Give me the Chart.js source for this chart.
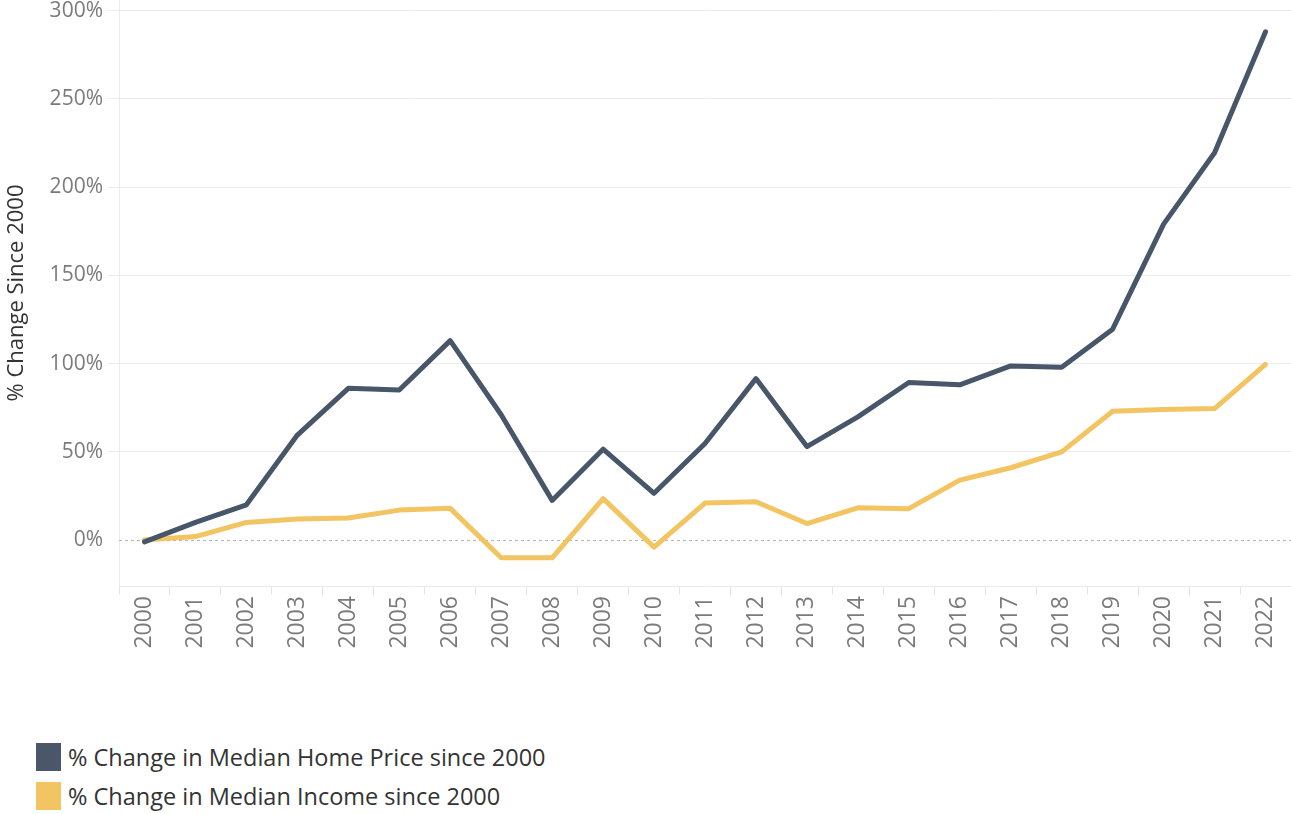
<!DOCTYPE html>
<html>
<head>
<meta charset="utf-8">
<script src="https://cdn.jsdelivr.net/npm/chart.js@4/dist/chart.umd.min.js"></script>
<style>
  html, body { margin: 0; padding: 0; background: #fff; }
  #wrap { position: relative; width: 1291px; height: 814px; }
  #chartBox { position: absolute; left: 0; top: 0; width: 1291px; height: 700px; }
  .legend { position: absolute; left: 36px; font-family: 'Open Sans', sans-serif; font-size: 23.5px; color: #333; }
  .legend-row { display: flex; align-items: center; height: 28px; margin-bottom: 11px; }
  .legend-sw { width: 25px; height: 28px; margin-right: 7px; }
</style>
</head>
<body>
<div id="wrap">
  <div id="chartBox"><canvas id="lineChart"></canvas></div>
  <div class="legend" style="top:743px">
    <div class="legend-row"><div class="legend-sw" style="background:#4a5769"></div><span>% Change in Median Home Price since 2000</span></div>
    <div class="legend-row"><div class="legend-sw" style="background:#f2c462"></div><span>% Change in Median Income since 2000</span></div>
  </div>
</div>
<script>
/* ── Data ─────────────────────────────────────── */
const YEARS = ['2000','2001','2002','2003','2004','2005','2006','2007','2008','2009','2010',
               '2011','2012','2013','2014','2015','2016','2017','2018','2019','2020','2021','2022'];
const HOME_PRICE = [-1, 10, 20, 59.5, 86, 85, 113, 71, 22.5, 51.5, 26.5,
                    54.7, 91.5, 53, 69.8, 89.3, 88, 98.7, 98, 119.5, 179, 219.5, 288];
const INCOME     = [0, 2, 10, 12, 12.5, 17, 18, -10, -10, 23.5, -4,
                    21, 21.7, 9.4, 18.3, 17.8, 34, 41, 50, 73, 74, 74.5, 99.5];
const Y_TICKS    = [0, 50, 100, 150, 200, 250, 300];

/* ── Colours ──────────────────────────────────── */
const C_DARK  = '#475668';
const C_GOLD  = '#f2c462';
const C_GRID  = '#ececec';
const C_TICK  = '#7b7b7b';
const FONT    = "'Open Sans', sans-serif";

/* dashed zero line */
const zeroLine = {
  id: 'zeroLine',
  beforeDatasetsDraw(chart) {
    const { ctx, chartArea, scales } = chart;
    const y = Math.round(scales.y.getPixelForValue(0)) + 0.5;
    ctx.save();
    ctx.strokeStyle = '#b5b5b5';
    ctx.lineWidth = 1;
    ctx.setLineDash([3, 3]);
    ctx.beginPath();
    ctx.moveTo(chartArea.left, y);
    ctx.lineTo(chartArea.right, y);
    ctx.stroke();
    ctx.restore();
  },
};

new Chart(document.getElementById('lineChart'), {
  type: 'line',
  data: {
    labels: YEARS,
    datasets: [
      {
        label: '% Change in Median Home Price since 2000',
        data: HOME_PRICE,
        borderColor: C_DARK,
        borderWidth: 5,
        pointRadius: 0,
        borderCapStyle: 'round',
        borderJoinStyle: 'round',
        tension: 0,
      },
      {
        label: '% Change in Median Income since 2000',
        data: INCOME,
        borderColor: C_GOLD,
        borderWidth: 5,
        pointRadius: 0,
        borderCapStyle: 'round',
        borderJoinStyle: 'round',
        tension: 0,
      },
    ],
  },
  options: {
    responsive: true,
    maintainAspectRatio: false,
    animation: false,
    layout: { padding: 0 },
    plugins: {
      legend: { display: false },
      tooltip: { enabled: false },
    },
    scales: {
      x: {
        offset: true,
        grid: { offset: true, drawOnChartArea: false, color: '#e4e4e4', tickLength: 9 },
        border: { color: '#ececec' },
        ticks: { color: C_TICK, font: { family: FONT, size: 23 }, minRotation: 90, maxRotation: 90, padding: 1 },
        afterFit: s => { s.height = 114; s.paddingLeft = 0; s.paddingRight = 0; },
      },
      y: {
        min: -26,
        max: 306,
        afterBuildTicks: s => { s.ticks = Y_TICKS.map(v => ({ value: v })); },
        grid: { color: C_GRID, tickLength: 12, lineWidth: c => (c.tick && c.tick.value === 0 ? 0 : 1) },
        border: { color: '#ececec' },
        ticks: { color: C_TICK, font: { family: FONT, size: 21 }, padding: 4, callback: v => v + '%' },
        title: {
          display: true,
          text: '% Change Since 2000',
          color: '#333',
          font: { family: FONT, size: 22 },
          padding: { top: 4, bottom: 0 },
        },
        afterFit: s => { s.width = 119; s.paddingTop = 0; s.paddingBottom = 0; },
      },
    },
  },
  plugins: [zeroLine],
});
</script>
</body>
</html>
